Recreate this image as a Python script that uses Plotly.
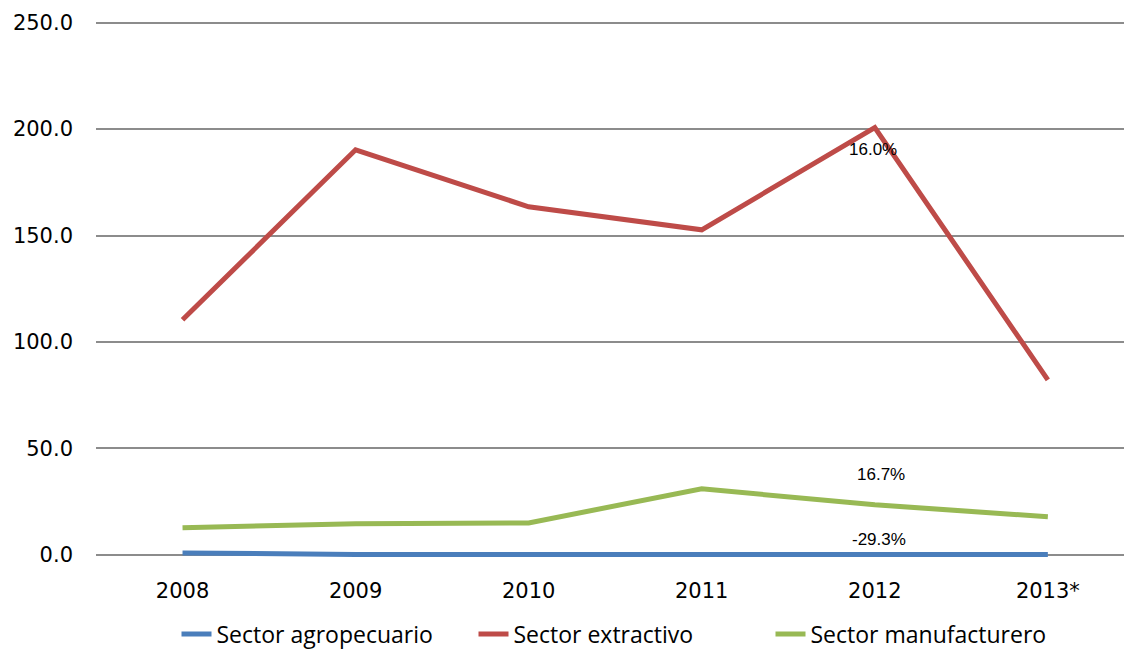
import plotly.graph_objects as go

years = ["2008", "2009", "2010", "2011", "2012", "2013*"]
agro = [0.9, 0.2, 0.1, 0.1, 0.3, 0.2]
extractivo = [110.4, 190.3, 163.5, 152.7, 200.7, 82.2]
manufacturero = [12.7, 14.6, 15.0, 31.0, 23.5, 17.9]

labels_text = ["16.0%", "16.7%", "-29.3%"]
labels_y = [190.3, 37.6, 7.0]
labels_shift = [-2, 6, 4]

font_ann = "Liberation Sans, Arial, sans-serif"
font_axis = "DejaVu Sans, sans-serif"
font_leg = "Open Sans, sans-serif"

fig = go.Figure()
series = [
    ("Sector agropecuario", agro, "#4a7ebb"),
    ("Sector extractivo", extractivo, "#be4b48"),
    ("Sector manufacturero", manufacturero, "#98b954"),
]
for name, vals, col in series:
    fig.add_trace(go.Scatter(x=years, y=vals, mode="lines", name=name,
                             line=dict(color=col, width=5)))

for t, yv, sh in zip(labels_text, labels_y, labels_shift):
    fig.add_annotation(x=4, y=yv, xref="x", yref="y", text=t, showarrow=False,
                       xshift=sh,
                       font=dict(family=font_ann, size=17, color="#000000"))

fig.update_layout(
    width=1124, height=650,
    paper_bgcolor="white", plot_bgcolor="white",
    margin=dict(l=96, r=0, t=21, b=92, autoexpand=False),
    showlegend=True,
    legend=dict(orientation="h", x=0.5 + 12 / 1028, xanchor="center",
                y=-(634 - 558) / 537, yanchor="middle",
                font=dict(family=font_leg, size=23, color="#000"),
                entrywidth=252, entrywidthmode="pixels"),
    xaxis=dict(type="category", range=[-0.5, 5.44], showgrid=False, showline=False,
               ticks="", ticklabelstandoff=18,
               tickfont=dict(family=font_axis, size=21, color="#000")),
    yaxis=dict(range=[-1.5, 250.8], tickvals=[0, 50, 100, 150, 200, 250], tickformat=".1f",
               showgrid=True, gridcolor="#8c8c8c", gridwidth=1.5, zeroline=False,
               showline=False, ticks="", ticklabelstandoff=22,
               tickfont=dict(family=font_axis, size=21, color="#000")),
)

fig.write_html(
    "out.html",
    config={"displayModeBar": False},
    post_script="document.body.style.margin='0';document.body.style.overflow='hidden';",
)
